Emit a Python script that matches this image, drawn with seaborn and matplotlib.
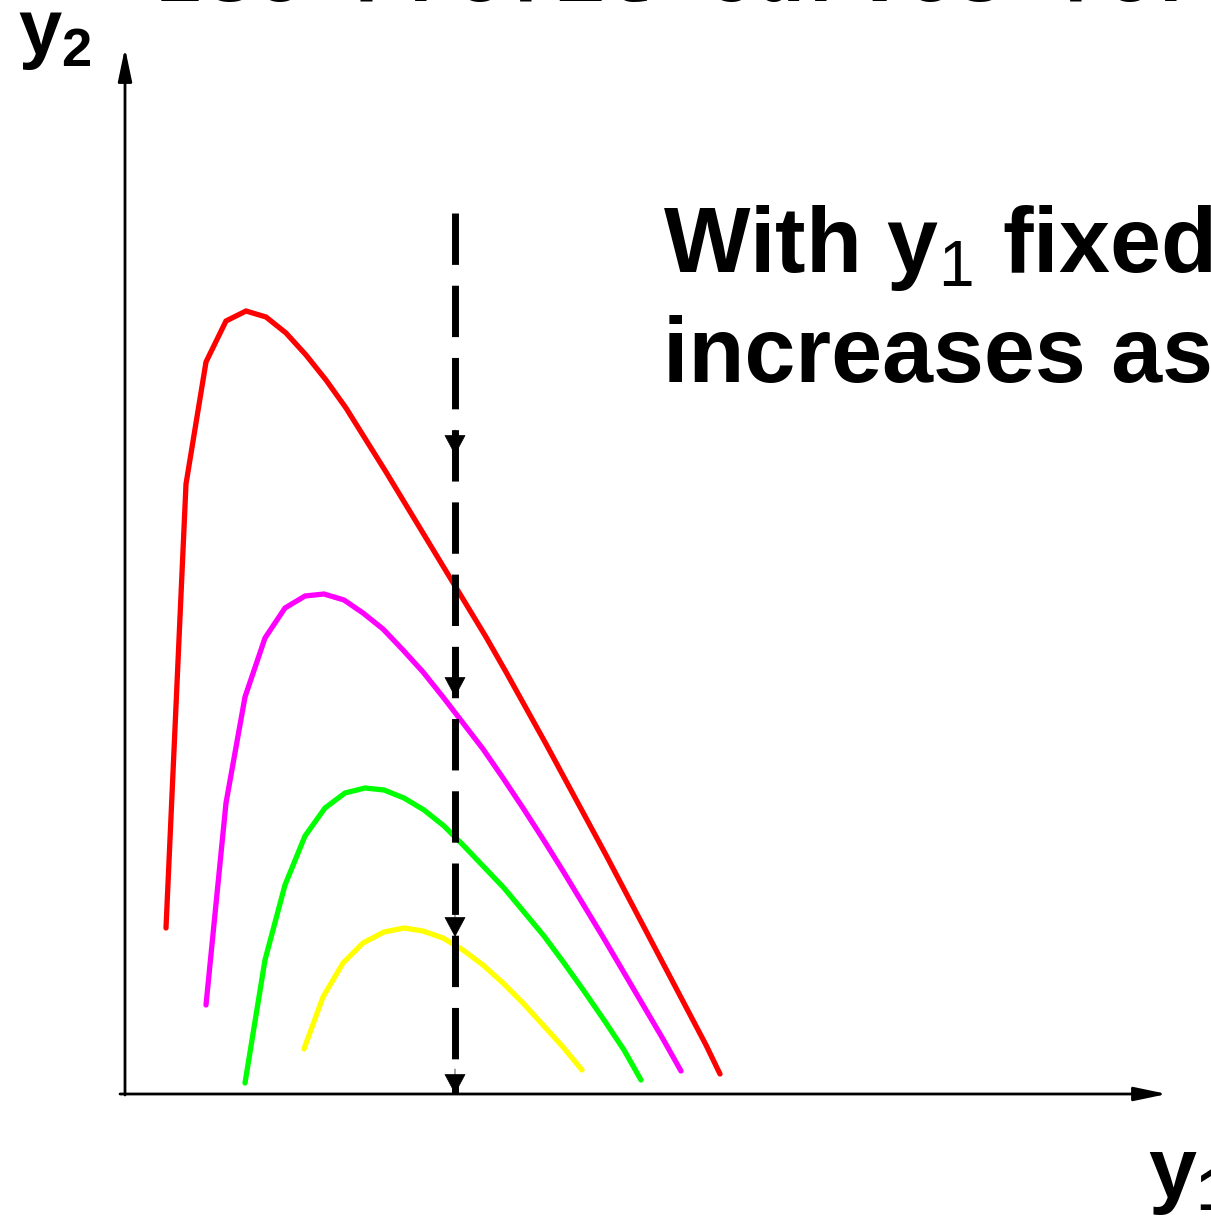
import matplotlib
matplotlib.use("Agg")
import matplotlib.pyplot as plt
import seaborn as sns
import pandas as pd

# ---- data (units: arbitrary y1 / y2 levels) ----
red_x = [0.41, 0.61, 0.81, 1.01, 1.21, 1.41, 1.61, 1.81, 2.01, 2.21, 2.41, 2.61, 2.81, 3.01, 3.21,
         3.41, 3.61, 3.81, 4.01, 4.21, 4.41, 4.61, 4.81, 5.01, 5.21, 5.41, 5.61, 5.81, 5.95]
red_y = [1.66, 6.10, 7.32, 7.73, 7.83, 7.77, 7.61, 7.39, 7.14, 6.86, 6.54, 6.22, 5.89, 5.56, 5.23,
         4.90, 4.57, 4.22, 3.86, 3.50, 3.13, 2.76, 2.39, 2.01, 1.63, 1.25, 0.87, 0.49, 0.20]

mag_x = [0.81, 1.01, 1.20, 1.40, 1.60, 1.80, 1.99, 2.19, 2.38, 2.58, 2.78, 2.98, 3.18, 3.38, 3.58,
         3.78, 3.98, 4.18, 4.38, 4.58, 4.78, 4.98, 5.18, 5.38, 5.56]
mag_y = [0.89, 2.91, 3.97, 4.56, 4.86, 4.98, 5.00, 4.94, 4.81, 4.65, 4.44, 4.22, 3.97, 3.71, 3.45,
         3.16, 2.86, 2.55, 2.23, 1.90, 1.57, 1.23, 0.89, 0.55, 0.23]

grn_x = [1.20, 1.40, 1.60, 1.80, 2.00, 2.20, 2.40, 2.59, 2.79, 2.99, 3.19, 3.39, 3.59, 3.79, 3.99,
         4.19, 4.39, 4.59, 4.79, 4.99, 5.16]
grn_y = [0.11, 1.34, 2.09, 2.58, 2.86, 3.01, 3.06, 3.04, 2.96, 2.84, 2.68, 2.48, 2.27, 2.06, 1.82,
         1.58, 1.31, 1.03, 0.74, 0.44, 0.14]

yel_x = [1.79, 1.98, 2.18, 2.38, 2.59, 2.79, 2.98, 3.18, 3.38, 3.58, 3.78, 3.98, 4.18, 4.38, 4.57]
yel_y = [0.45, 0.97, 1.31, 1.51, 1.62, 1.66, 1.63, 1.56, 1.44, 1.29, 1.11, 0.91, 0.69, 0.47, 0.24]

curve_names = ["high", "mid_high", "mid_low", "low"]
curve_colors = ["#ff0000", "#ff00ff", "#00ff00", "#ffff00"]

fixed_y1 = 3.30
fixed_top = 8.81
arrow_tips = [6.39, 3.97, 1.57, 0.0]

title_text = "Iso-Profit Curves for"
note_line1 = r"With $\mathbf{y}_\mathrm{1}$ fixed"
note_line2 = "increases as"
xlabel_text = r"$\mathbf{y_1}$"
ylabel_text = r"$\mathbf{y_2}$"

# ---- build table ----
frames = []
for name, xs, ys in zip(curve_names, [red_x, mag_x, grn_x, yel_x], [red_y, mag_y, grn_y, yel_y]):
    frames.append(pd.DataFrame({"y1": xs, "y2": ys, "curve": name}))
df = pd.concat(frames, ignore_index=True)

sns.set_style("white")
plt.rcParams["font.family"] = ["Liberation Sans", "DejaVu Sans"]
plt.rcParams["text.color"] = "black"
plt.rcParams["mathtext.fontset"] = "custom"
plt.rcParams["mathtext.rm"] = "Liberation Sans"
plt.rcParams["mathtext.bf"] = "Liberation Sans:bold"
plt.rcParams["mathtext.it"] = "Liberation Sans:italic"

fig = plt.figure(figsize=(12.11, 12.16), dpi=100)
ax = fig.add_axes([0, 0, 1, 1])
ax.set_xlim(-1.25, 10.86)
ax.set_ylim(-1.22, 10.94)
ax.axis("off")

sns.lineplot(data=df, x="y1", y="y2", hue="curve", units="curve", estimator=None, sort=False,
             palette=dict(zip(curve_names, curve_colors)), linewidth=3.8, legend=False, ax=ax,
             solid_capstyle="round", solid_joinstyle="miter")

# axes with arrows
axis_style = "-|>,head_length=2.0,head_width=0.42"
ax.annotate("", xy=(10.42, 0), xytext=(-0.05, 0),
            arrowprops=dict(arrowstyle=axis_style, color="black", lw=2, shrinkA=0, shrinkB=0,
                            mutation_scale=10))
ax.annotate("", xy=(0, 10.46), xytext=(0, -0.01),
            arrowprops=dict(arrowstyle=axis_style, color="black", lw=2, shrinkA=0, shrinkB=0,
                            mutation_scale=10))

# dashed vertical line at fixed y1
ax.plot([fixed_y1, fixed_y1], [fixed_top, 0], color="black", lw=5, dashes=(7.4, 3.0),
        solid_capstyle="butt", dash_capstyle="butt", zorder=3)
for tip in arrow_tips:
    ax.annotate("", xy=(fixed_y1, tip), xytext=(fixed_y1, tip + 0.25),
                arrowprops=dict(arrowstyle="-|>,head_length=1.35,head_width=0.72", color="black",
                                lw=0.5, shrinkA=0, shrinkB=0, mutation_scale=10), zorder=4)

# texts
ax.text(5.38, 8.22, note_line1, fontsize=66, fontweight="bold", va="baseline", ha="left",
        color="black")
ax.text(5.38, 7.12, note_line2, fontsize=66, fontweight="bold", va="baseline", ha="left",
        color="black")
ax.text(-1.07, 10.40, ylabel_text, fontsize=56, va="baseline", ha="left", color="black")
ax.text(10.23, -1.03, xlabel_text, fontsize=62, va="baseline", ha="left", color="black")
ax.text(0.30, 10.925, title_text, fontsize=60, fontweight="bold", family="Liberation Mono",
        va="baseline", ha="left", color="black")

fig.savefig("out.png", dpi=100)
